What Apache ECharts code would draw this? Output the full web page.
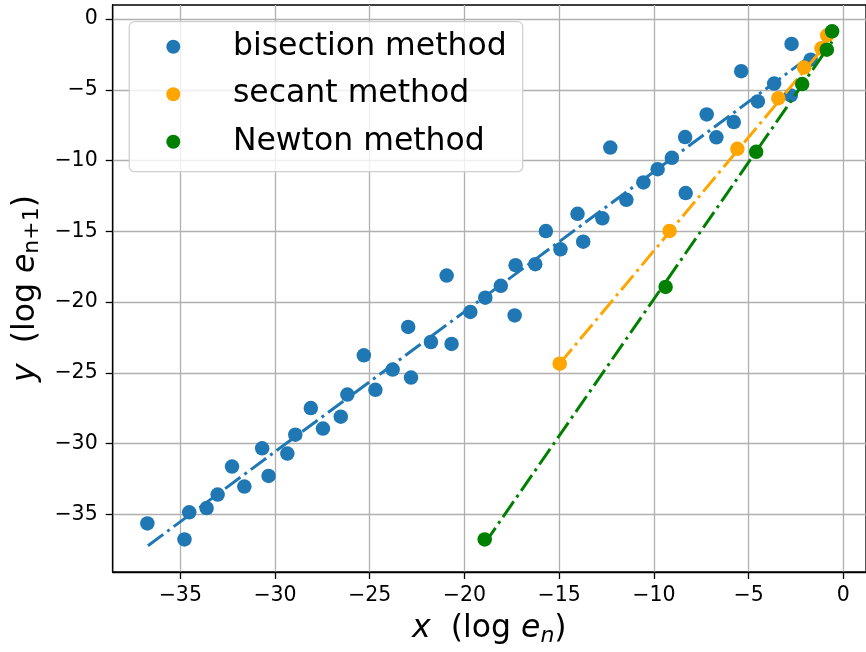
<!DOCTYPE html>
<html>
<head>
<meta charset="utf-8">
<script src="https://cdn.jsdelivr.net/npm/echarts@6/dist/echarts.min.js"></script>
<style>html,body{margin:0;padding:0;background:#fff;}#c{width:866px;height:652px;}</style>
</head>
<body>
<div id="c"></div>
<script>
const bisectionX = [-36.74,-34.78,-34.53,-33.61,-33.03,-32.27,-31.62,-30.68,-30.34,-29.35,-28.93,-28.11,-27.47,-26.53,-26.18,-25.31,-24.70,-23.79,-22.97,-22.82,-21.77,-20.94,-20.68,-19.69,-18.9,-18.08,-17.35,-17.30,-16.26,-15.70,-14.93,-14.03,-13.73,-12.72,-12.30,-11.45,-10.55,-9.80,-9.05,-8.35,-8.32,-7.21,-6.70,-5.78,-5.39,-4.51,-3.65,-2.77,-2.73,-1.72];
const bisectionY = [-35.64,-36.77,-34.85,-34.55,-33.60,-31.62,-33.03,-30.33,-32.28,-30.70,-29.37,-27.49,-28.94,-28.10,-26.53,-23.76,-26.20,-24.77,-21.76,-25.33,-22.82,-18.13,-22.96,-20.70,-19.69,-18.85,-20.94,-17.39,-17.32,-14.98,-16.27,-13.76,-15.73,-14.08,-9.08,-12.77,-11.55,-10.61,-9.81,-8.34,-12.3,-6.74,-8.36,-7.28,-3.69,-5.82,-4.56,-5.40,-1.76,-2.87];
const secantX = [-0.85,-1.15,-2.07,-3.43,-5.59,-9.17,-14.97];
const secantY = [-1.15,-2.07,-3.43,-5.59,-9.17,-14.97,-24.35];
const newtonX = [-0.59,-0.87,-2.17,-4.60,-9.38,-18.93];
const newtonY = [-0.87,-2.17,-4.60,-9.38,-18.93,-36.77];
const bisectionFitX = [-36.71,-1.72];
const bisectionFitY = [-37.21,-2.6];
const secantFitX = [-14.97,-0.85];
const secantFitY = [-24.35,-1.7];
const newtonFitX = [-18.93,-0.59];
const newtonFitY = [-37.05,-1.6];
const xTicks = [-35,-30,-25,-20,-15,-10,-5,0];
const yTicks = [0,-5,-10,-15,-20,-25,-30,-35];
const names = ['bisection method','secant method','Newton method'];
const colors = ['#1f77b4','#ffa500','#008000'];

const zip = (a,b) => a.map((v,i)=>[v,b[i]]);
const FONT = 'DejaVu Sans';
const minus = v => String(v).replace('-', '\u2212');
const dash = [19,5,3,5];

const chart = echarts.init(document.getElementById('c'), null, {renderer:'canvas'});
const axisCommon = {
  axisLine:{show:true,onZero:false,lineStyle:{color:'#000',width:1.3}},
  axisTick:{show:true,inside:false,length:7,lineStyle:{color:'#000',width:1.3}},
  splitLine:{show:true,lineStyle:{color:'#b0b0b0',width:1.3}},
};
const nameStyle = (subItalic) => ({color:'#000',fontFamily:FONT,fontSize:31.5,
  rich:{i:{fontStyle:'italic',fontFamily:FONT,fontSize:31.5,color:'#000'},
        n:{fontFamily:FONT,fontSize:31.5,color:'#000'},
        sub:{fontStyle:subItalic?'italic':'normal',fontFamily:FONT,fontSize:22,color:'#000',verticalAlign:'bottom',padding:[14,0,0,0]}}});
chart.setOption({
  animation:false,
  backgroundColor:'#fff',
  grid:{left:112.7,top:5,right:-8,bottom:79.3,show:true,borderColor:'#000',borderWidth:1.3,backgroundColor:'transparent'},
  xAxis:Object.assign({}, axisCommon, {
    type:'value', min:-38.57, max:1.2, splitNumber:8,
    axisTick:Object.assign({}, axisCommon.axisTick, {customValues:xTicks}),
    axisLabel:{customValues:xTicks, formatter:minus, color:'#000', fontFamily:FONT, fontSize:20.5, margin:13},
    name:'{i|x}{n|  (log }{i|e}{sub|n}{n|)}', nameLocation:'middle', nameGap:39,
    nameTextStyle:nameStyle(true)
  }),
  yAxis:Object.assign({}, axisCommon, {
    type:'value', min:-39.07, max:0.99, splitNumber:8,
    axisTick:Object.assign({}, axisCommon.axisTick, {customValues:yTicks}),
    axisLabel:{customValues:yTicks, formatter:minus, color:'#000', fontFamily:FONT, fontSize:20.5, margin:15},
    name:'{i|y}{n|  (log }{i|e}{sub|n+1}{n|)}', nameLocation:'middle', nameGap:65, nameRotate:90,
    nameTextStyle:nameStyle(false)
  }),
  legend:{
    data:names, orient:'vertical', left:166.3, top:23, padding:0, itemGap:0,
    itemWidth:14, itemHeight:14, icon:'circle', z:20,
    textStyle:{color:'#000',fontFamily:FONT,fontSize:31.5,lineHeight:47.5,padding:[0,0,0,47.6]}
  },
  graphic:{elements:[{type:'rect', z:15, zlevel:0, shape:{x:129.3,y:21.7,width:393.4,height:150,r:5},
    style:{fill:'rgba(255,255,255,0.8)',stroke:'#d0d0d0',lineWidth:1.3}}]},
  series:[
    {name:names[0],type:'scatter',data:zip(bisectionX,bisectionY),symbolSize:14.5,itemStyle:{color:colors[0],opacity:1},z:1},
    {name:'bisection fit',type:'line',data:zip(bisectionFitX,bisectionFitY),showSymbol:false,symbol:'none',lineStyle:{color:colors[0],width:3,type:dash,cap:'butt'},z:2},
    {name:names[1],type:'scatter',data:zip(secantX,secantY),symbolSize:14.5,itemStyle:{color:colors[1],opacity:1},z:3},
    {name:'secant fit',type:'line',data:zip(secantFitX,secantFitY),showSymbol:false,symbol:'none',lineStyle:{color:colors[1],width:3,type:dash,cap:'butt'},z:4},
    {name:names[2],type:'scatter',data:zip(newtonX,newtonY),symbolSize:14.5,itemStyle:{color:colors[2],opacity:1},z:5},
    {name:'Newton fit',type:'line',data:zip(newtonFitX,newtonFitY),showSymbol:false,symbol:'none',lineStyle:{color:colors[2],width:3,type:dash,cap:'butt'},z:6}
  ]
});
</script>
</body>
</html>
